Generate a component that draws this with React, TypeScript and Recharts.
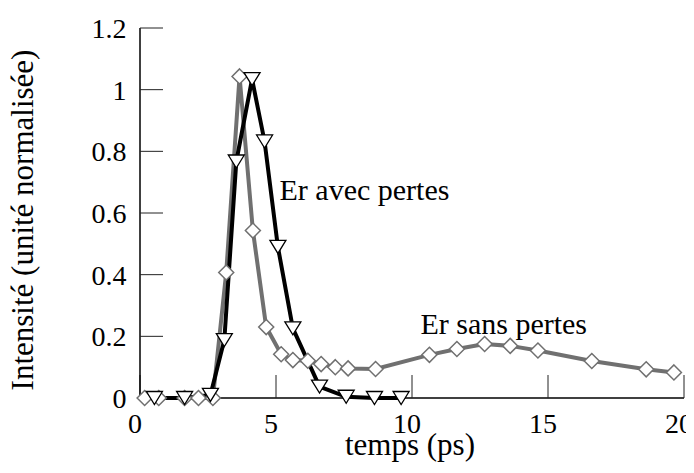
import { LineChart, Line, XAxis, YAxis, ReferenceDot } from 'recharts';

// Er sans pertes (gray, diamonds)
const sansX = [0.17, 0.69, 1.64, 2.15, 2.68, 3.17, 3.66, 4.15, 4.64, 5.19, 5.62, 6.17, 6.66, 7.18, 7.65, 8.66, 10.64, 11.65, 12.67, 13.61, 14.63, 16.61, 18.61, 19.63];
const sansY = [0, 0, 0, 0, 0, 0.407, 1.043, 0.543, 0.23, 0.142, 0.123, 0.121, 0.11, 0.1, 0.096, 0.094, 0.14, 0.159, 0.175, 0.169, 0.154, 0.12, 0.093, 0.083];

// Er avec pertes (black, triangles)
const avecX = [0.53, 1.64, 2.59, 3.1, 3.54, 4.12, 4.58, 5.07, 5.62, 6.6, 7.58, 8.62, 9.6];
const avecY = [0, 0, 0.01, 0.188, 0.767, 1.034, 0.832, 0.49, 0.226, 0.037, 0.004, 0, 0];

const xTicks = [0, 5, 10, 15, 20];
const yTicks = [0, 0.2, 0.4, 0.6, 0.8, 1, 1.2];

const sansData = sansX.map((t, i) => ({ t, v: sansY[i] }));
const avecData = avecX.map((t, i) => ({ t, v: avecY[i] }));

const FONT = 'Liberation Serif, DejaVu Serif, Times New Roman, serif';
const frame = { stroke: '#000', strokeWidth: 1.5 };
const tickLine = { stroke: '#222', strokeWidth: 1 };

const Diamond = (p: any) => {
  const { cx, cy, index } = p;
  if (cx == null || cy == null) return <g key={`d-${index}`} />;
  const s = 7.5;
  return (
    <path
      key={`d-${index}`}
      d={`M${cx},${cy - s}L${cx + s},${cy}L${cx},${cy + s}L${cx - s},${cy}Z`}
      fill="#fff"
      stroke="#707070"
      strokeWidth={1.5}
    />
  );
};

const Triangle = (p: any) => {
  const { cx, cy, index } = p;
  if (cx == null || cy == null) return <g key={`t-${index}`} />;
  const w = 8, h = 6.5;
  return (
    <path
      key={`t-${index}`}
      d={`M${cx - w},${cy - h}L${cx + w},${cy - h}L${cx},${cy + h}Z`}
      fill="#fff"
      stroke="#000"
      strokeWidth={1.3}
    />
  );
};

const annotation = (text: string) => (p: any) => (
  <text x={p.cx} y={p.cy} fontSize={30} style={{ fontFamily: FONT }} fill="#000">
    {text}
  </text>
);

const XLabel = (p: any) => {
  const vb = p.viewBox || { x: 132, y: 390, width: 544, height: 70 };
  return (
    <text x={vb.x + vb.width / 2 - 2} y={vb.y + 57} textAnchor="middle" fontSize={31} style={{ fontFamily: FONT }} fill="#000">
      temps (ps)
    </text>
  );
};

const YLabel = (p: any) => {
  const vb = p.viewBox || { x: 0, y: 20, width: 132, height: 370 };
  const x = vb.x + 25;
  const y = vb.y + vb.height / 2 + 7;
  return (
    <text x={x} y={y} transform={`rotate(-90, ${x}, ${y})`} textAnchor="middle" fontSize={31} style={{ fontFamily: FONT }} fill="#000">
      Intensité (unité normalisée)
    </text>
  );
};

export default function App() {
  return (
    <div style={{ fontFamily: FONT, width: 678 }}>
      <LineChart width={685} height={460} margin={{ top: 20, right: 9, bottom: 0, left: 0 }} style={{ fontFamily: FONT }}>
        <XAxis
          xAxisId="b"
          dataKey="t"
          type="number"
          domain={[0, 20]}
          ticks={xTicks}
          interval={0}
          height={70}
          tickSize={-23}
          tickMargin={38}
          tick={{ fontSize: 28, fill: '#000', style: { fontFamily: FONT }, dx: -5 }}
          axisLine={frame}
          tickLine={tickLine}
          label={<XLabel />}
        />
        <XAxis
          xAxisId="t"
          orientation="top"
          type="number"
          domain={[0, 20]}
          ticks={xTicks}
          interval={0}
          height={0}
          tickSize={-23}
          tick={false}
          axisLine={frame}
          tickLine={tickLine}
        />
        <YAxis
          yAxisId="l"
          type="number"
          domain={[0, 1.2]}
          ticks={yTicks}
          interval={0}
          width={132}
          tickSize={-23}
          tickMargin={36.5}
          tickFormatter={(v: number) => String(v)}
          tick={{ fontSize: 28, fill: '#000', style: { fontFamily: FONT } }}
          axisLine={frame}
          tickLine={tickLine}
          label={<YLabel />}
        />
        <YAxis
          yAxisId="r"
          orientation="right"
          type="number"
          domain={[0, 1.2]}
          ticks={yTicks}
          interval={0}
          width={0}
          tickSize={-23}
          tick={false}
          axisLine={frame}
          tickLine={tickLine}
        />
        <Line
          xAxisId="b"
          yAxisId="l"
          data={sansData}
          dataKey="v"
          type="linear"
          stroke="#707070"
          strokeWidth={4}
          dot={Diamond}
          activeDot={false}
          isAnimationActive={false}
        />
        <Line
          xAxisId="b"
          yAxisId="l"
          data={avecData}
          dataKey="v"
          type="linear"
          stroke="#000"
          strokeWidth={4}
          dot={Triangle}
          activeDot={false}
          isAnimationActive={false}
        />
        <ReferenceDot xAxisId="b" yAxisId="l" x={5.13} y={0.643} r={0} shape={annotation('Er avec pertes')} />
        <ReferenceDot xAxisId="b" yAxisId="l" x={10.31} y={0.208} r={0} shape={annotation('Er sans pertes')} />
      </LineChart>
    </div>
  );
}
